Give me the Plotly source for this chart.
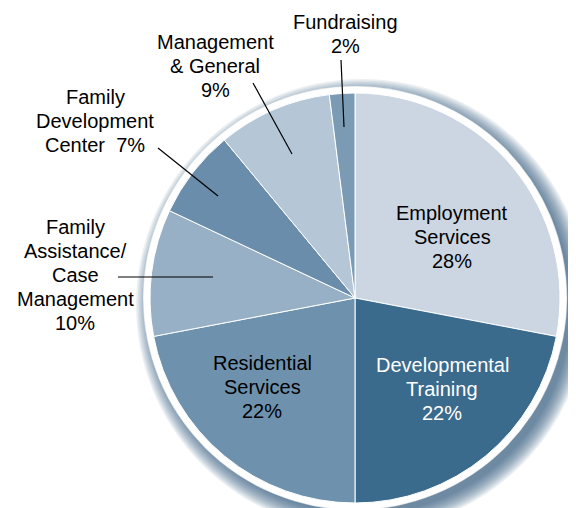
import plotly.graph_objects as go

# Répartition des dépenses (en %), dans le sens horaire à partir de midi
categories = ["Employment Services", "Developmental Training", "Residential Services",
              "Family Assistance/ Case Management", "Family Development Center",
              "Management & General", "Fundraising"]
valeurs = [28, 22, 22, 10, 7, 9, 2]
couleurs = ["#CBD6E2", "#3A6A8C", "#6E92AE", "#97B0C6", "#698DAA", "#B5C6D7", "#7B9BB5"]

# texte des étiquettes, ligne par ligne (le % est ajouté en dernière ligne)
lignes_etiquettes = [
    ["Employment", "Services"],
    ["Developmental", "Training"],
    ["Residential", "Services"],
    ["Family", "Assistance/", "Case", "Management"],
    ["Family", "Development", "Center"],
    ["Management", "& General"],
    ["Fundraising"],
]
pct_meme_ligne = [False, False, False, False, True, False, False]
couleurs_texte = ["black", "white", "black", "black", "black", "black", "black"]

W, H = 576, 508
DEC = 8                            # marge du <body> de la page : on compense
CX, CY, R = 355, 298, 205          # centre et rayon du camembert (px, repère image)

# position (x, y de la 1re ligne) de chaque étiquette, en px
pos_etiquettes = [(452, 213), (442, 365), (262, 363), (75, 227), (95, 97), (215, 42), (345, 22)]
INTERLIGNE = 24
# traits de rappel pour les petites parts : (x0, y0, x1, y1) en px
traits = {3: (118, 277, 213, 277), 4: (158, 148, 218, 196),
          5: (253, 83, 292, 154), 6: (341, 60, 344, 127)}


def px(x, y):
    return (x - DEC) / W, 1 - (y - DEC) / H


def cercle(cx, cy, r, **kw):
    x0, y1 = px(cx - r, cy - r)
    x1, y0 = px(cx + r, cy + r)
    return dict(type="circle", xref="paper", yref="paper",
                x0=x0, x1=x1, y0=y0, y1=y1, layer="below", **kw)


dx0, dy1 = px(CX - R, CY - R)
dx1, dy0 = px(CX + R, CY + R)
fig = go.Figure(go.Pie(
    labels=categories, values=valeurs, sort=False, direction="clockwise",
    rotation=0, textinfo="none", hoverinfo="label+percent",
    marker=dict(colors=couleurs, line=dict(color="white", width=1)),
    domain=dict(x=[dx0, dx1], y=[dy0, dy1]),
    showlegend=False))

# ombre portée (cercles superposés, légèrement décalés vers le bas-droite)
formes = []
for k in range(12):
    formes.append(cercle(CX + 7, CY + 7, 226 - k * 1.5,
                         fillcolor="rgba(45,90,125,0.09)", line=dict(width=0)))
formes.append(cercle(CX, CY, R + 7, fillcolor="white",
                     line=dict(color="rgba(180,190,200,0.6)", width=0.6)))

for i, (x0, y0, x1, y1) in traits.items():
    a, b = px(x0, y0)
    c, d = px(x1, y1)
    formes.append(dict(type="line", xref="paper", yref="paper", x0=a, y0=b, x1=c, y1=d,
                       line=dict(color="black", width=1.2), layer="above"))

annotations = []
for i, lignes in enumerate(lignes_etiquettes):
    textes = list(lignes)
    if pct_meme_ligne[i]:
        textes[-1] = f"{textes[-1]}  {valeurs[i]}%"
    else:
        textes.append(f"{valeurs[i]}%")
    x, y = pos_etiquettes[i]
    for j, t in enumerate(textes):
        xp, yp = px(x, y + j * INTERLIGNE)
        annotations.append(dict(x=xp, y=yp, xref="paper", yref="paper", text=t,
                                showarrow=False, xanchor="center", yanchor="middle",
                                font=dict(family="Liberation Sans, Arial, sans-serif",
                                          size=20, color=couleurs_texte[i])))

fig.update_layout(width=W, height=H, margin=dict(l=0, r=0, t=0, b=0),
                  paper_bgcolor="white", plot_bgcolor="white",
                  shapes=formes, annotations=annotations)
fig.write_html("out.html")
